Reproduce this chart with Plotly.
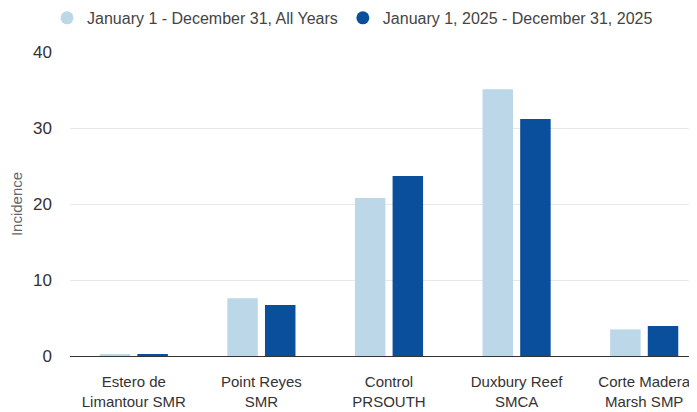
import plotly.graph_objects as go

categories = ["Estero de<br>Limantour SMR", "Point Reyes<br>SMR", "Control<br>PRSOUTH",
              "Duxbury Reef<br>SMCA", "Corte Madera<br>Marsh SMP"]
all_years = [0.2, 7.6, 20.8, 35.1, 3.5]
year_2025 = [0.25, 6.7, 23.7, 31.2, 3.95]
series_names = ["January 1 - December 31, All Years", "January 1, 2025 - December 31, 2025"]
colors = ["#BBD7E8", "#0A4F9C"]
y_ticks = [0, 10, 20, 30, 40]

fig = go.Figure()
for name, vals, col in zip(series_names, [all_years, year_2025], colors):
    fig.add_trace(go.Bar(x=categories, y=vals, name=name, marker_color=col,
                         marker_line_width=0, showlegend=False))
for name, col in zip(series_names, colors):
    fig.add_trace(go.Scatter(x=[None], y=[None], mode="markers", name=name,
                             marker=dict(symbol="circle", size=13, color=col)))

fig.update_layout(
    width=700, height=412,
    margin=dict(l=62, r=0, t=44, b=64, autoexpand=False),
    paper_bgcolor="white", plot_bgcolor="white",
    font=dict(family="Liberation Sans, Arial, sans-serif", size=16, color="#333333"),
    barmode="group", bargap=0.41, bargroupgap=0.19,
    legend=dict(orientation="h", xref="paper", yref="paper",
                x=-0.036, y=1.112, xanchor="left", yanchor="middle",
                font=dict(size=16, color="#444444"), itemwidth=30,
                tracegroupgap=0),
    xaxis=dict(range=[-0.5, 4.5], showline=True, linecolor="#333333", linewidth=1,
               ticks="", ticklabelstandoff=12, automargin=False,
               tickfont=dict(size=15, color="#333333"), showgrid=False),
    yaxis=dict(range=[0, 40], tickvals=y_ticks, showgrid=True, gridcolor="#e8e8e8",
               gridwidth=1, zeroline=False, ticks="", ticklabelstandoff=17,
               automargin=False,
               tickfont=dict(size=17, color="#333333"),
               title=dict(text="Incidence", font=dict(size=15, color="#666666"), standoff=8)),
)

fig.write_html("out.html")
